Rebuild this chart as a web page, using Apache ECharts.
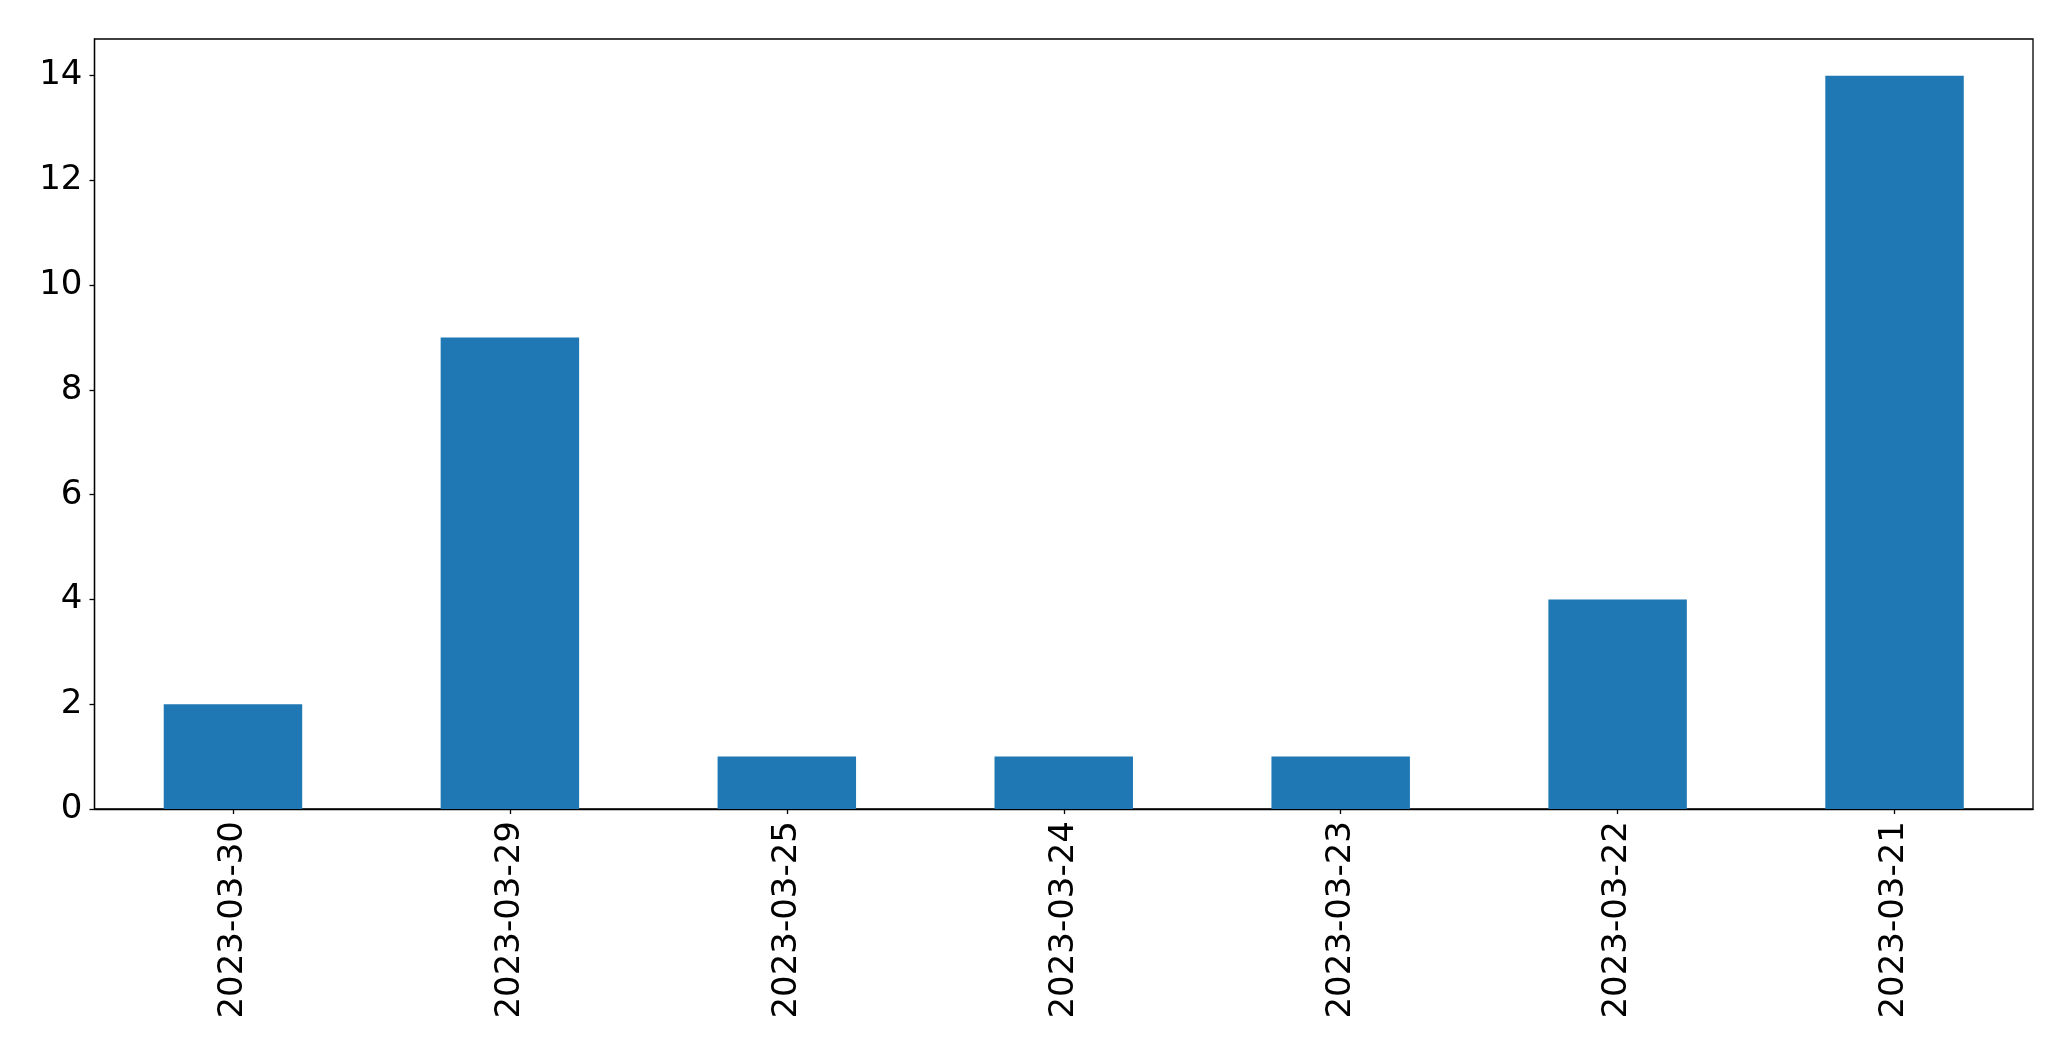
<!DOCTYPE html>
<html>
<head>
<meta charset="utf-8">
<script src="https://cdn.jsdelivr.net/npm/echarts@6/dist/echarts.min.js"></script>
<style>html,body{margin:0;padding:0;background:#fff;}#c{width:2071px;height:1061px;}</style>
</head>
<body>
<div id="c"></div>
<script>
const categories = ['2023-03-30','2023-03-29','2023-03-25','2023-03-24','2023-03-23','2023-03-22','2023-03-21'];
const values = [2, 9, 1, 1, 1, 4, 14];

const chart = echarts.init(document.getElementById('c'), null, {renderer: 'canvas'});
const font = 'DejaVu Sans';
chart.setOption({
  animation: false,
  backgroundColor: '#ffffff',
  grid: {
    left: 94.5, top: 39, right: 38, bottom: 252,
    containLabel: false,
    show: true, borderColor: '#000', borderWidth: 1.3, backgroundColor: 'transparent'
  },
  xAxis: {
    type: 'category',
    data: categories,
    boundaryGap: true,
    axisLine: {show: true, lineStyle: {color: '#000', width: 1.3}},
    axisTick: {show: true, alignWithLabel: true, length: 5, lineStyle: {color: '#000', width: 1.3}},
    axisLabel: {rotate: 90, fontSize: 34, fontFamily: font, color: '#000', margin: 12, interval: 0},
    splitLine: {show: false}
  },
  yAxis: {
    type: 'value',
    min: 0, max: 14.7, interval: 2,
    axisLine: {show: true, lineStyle: {color: '#000', width: 1.3}},
    axisTick: {show: true, length: 5, lineStyle: {color: '#000', width: 1.3}},
    axisLabel: {fontSize: 34, fontFamily: font, color: '#000', margin: 12, showMaxLabel: false,
      formatter: v => (Math.abs(v - Math.round(v)) < 1e-9 ? String(v) : '')},
    splitLine: {show: false}
  },
  series: [{
    type: 'bar',
    data: values,
    barWidth: '50%',
    itemStyle: {color: '#1f77b4'}
  }]
});
</script>
</body>
</html>
